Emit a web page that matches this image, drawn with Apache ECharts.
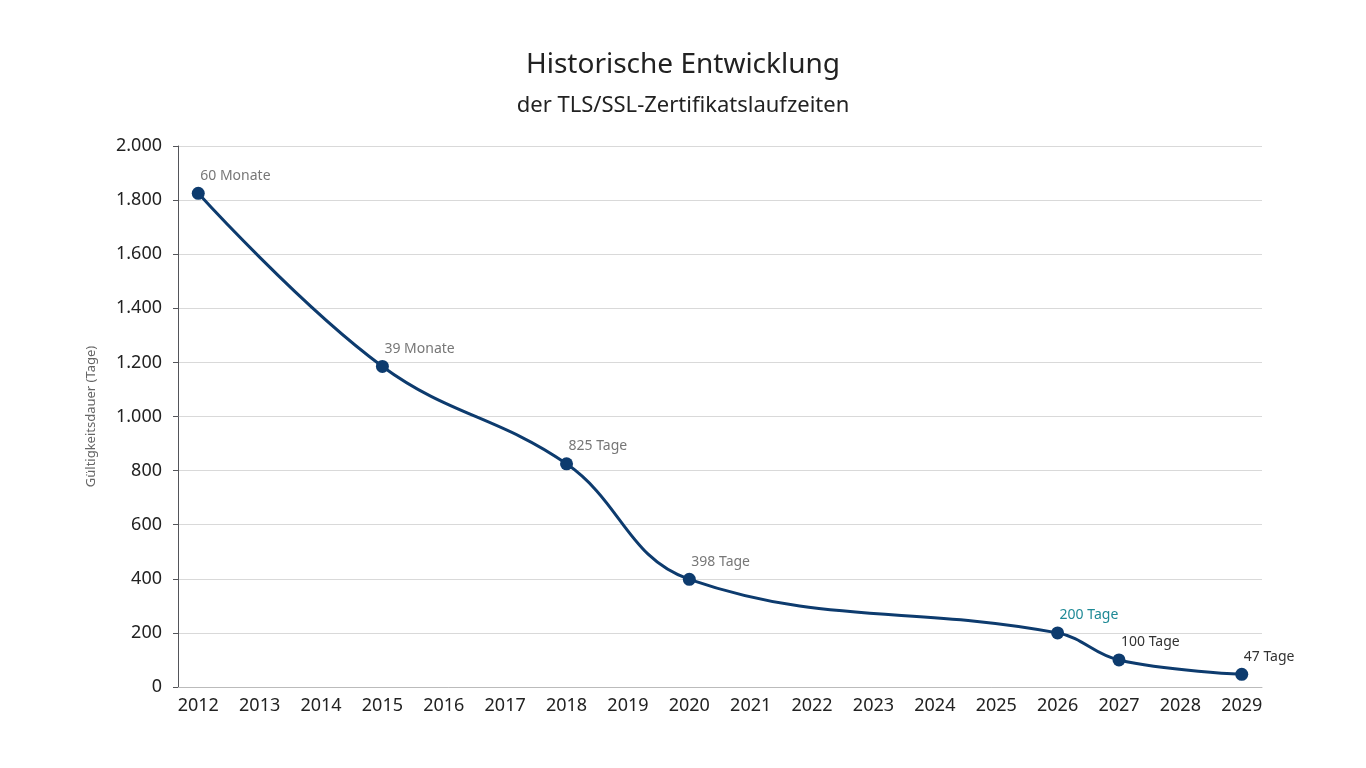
<!DOCTYPE html>
<html><head><meta charset="utf-8">
<script src="https://cdn.jsdelivr.net/npm/echarts@6/dist/echarts.min.js"></script>
<style>html,body{margin:0;padding:0;background:#fff}#c{width:1366px;height:768px}</style>
</head><body><div id="c"></div>
<script>
const years = [2012,2013,2014,2015,2016,2017,2018,2019,2020,2021,2022,2023,2024,2025,2026,2027,2028,2029];
const pointYears = [2012,2015,2018,2020,2026,2027,2029];
const pointValues = [1825,1185,825,398,200,100,47];
const pointLabels = ['60 Monate','39 Monate','825 Tage','398 Tage','200 Tage','100 Tage','47 Tage'];
const labelColors = ['#777777','#777777','#777777','#777777','#1f8a96','#333333','#333333'];
const font = 'Noto Sans';
const chart = echarts.init(document.getElementById('c'));
chart.setOption({
  textStyle:{fontFamily:font},
  title:{text:'Historische Entwicklung',subtext:'der TLS/SSL-Zertifikatslaufzeiten',left:'center',top:46,
    textStyle:{fontSize:28,fontWeight:'normal',color:'#222',fontFamily:font},
    subtextStyle:{fontSize:22,color:'#222',fontFamily:font},itemGap:16},
  grid:{left:178,right:104,top:146,bottom:81},
  xAxis:{type:'value',min:2011.67,max:2029.33,
    axisLine:{show:true,lineStyle:{color:'#bbb'}},axisTick:{show:false},splitLine:{show:false},
    axisLabel:{customValues:years,formatter:v=>String(Math.round(v)),fontSize:18,color:'#222',margin:10}},
  yAxis:{type:'value',min:0,max:2000,interval:200,name:'Gültigkeitsdauer (Tage)',nameLocation:'middle',nameGap:80,
    nameTextStyle:{fontSize:13,color:'#666'},
    axisLabel:{fontSize:18,color:'#222',margin:16,formatter:v=>v.toLocaleString('de-DE')},
    splitLine:{lineStyle:{color:'#d9d9d9'}}},
  series:[{type:'line',smooth:0.4,symbol:'circle',symbolSize:13,
    lineStyle:{color:'#0d3b6e',width:3},itemStyle:{color:'#0d3b6e'},
    data:pointYears.map((y,i)=>({value:[y,pointValues[i]],label:{show:true,formatter:pointLabels[i],color:labelColors[i],
      position:'top',align:'left',offset:[2,1],fontSize:14}}))}]
});
</script></body></html>
